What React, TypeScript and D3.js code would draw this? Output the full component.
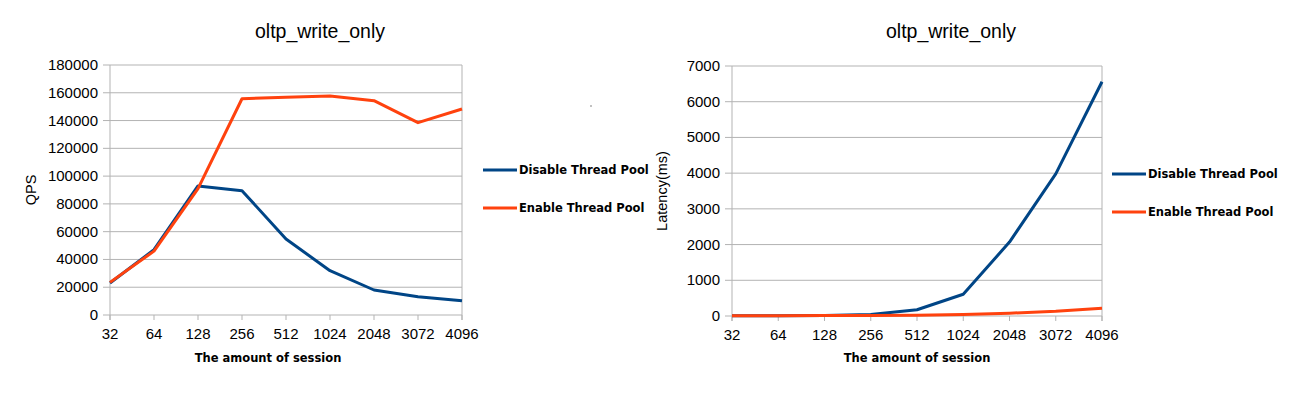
import React from 'react';
import * as d3 from 'd3';

const sessions = ['32', '64', '128', '256', '512', '1024', '2048', '3072', '4096'];
const seriesNames = ['Disable Thread Pool', 'Enable Thread Pool'];
const seriesColors = ['#004586', '#ff420e'];

const qpsDisable = [23000, 47000, 92900, 89500, 54700, 31900, 18000, 13200, 10300];
const qpsEnable = [23500, 46000, 91000, 155700, 156700, 157600, 154300, 138500, 148300];
const qpsTicks = [0, 20000, 40000, 60000, 80000, 100000, 120000, 140000, 160000, 180000];

const latDisable = [5, 8, 15, 45, 175, 610, 2070, 3980, 6560];
const latEnable = [8, 10, 12, 16, 24, 40, 80, 130, 215];
const latTicks = [0, 1000, 2000, 3000, 4000, 5000, 6000, 7000];

const font = '"Liberation Sans", Arial, sans-serif';
const boldFont = '"DejaVu Sans", sans-serif';

const Panel = (props) => {
  const {box, yMax, ticks, series, yTitle, yTitleX, titleX, xTitleX, legend} = props;
  const [top, left, bottom, right] = box;
  const x = d3.scalePoint().domain(sessions).range([left, right]);
  const y = d3.scaleLinear().domain([0, yMax]).range([bottom, top]);
  const line = d3.line().x((d, i) => x(sessions[i])).y(d => y(d));
  return (
    <g>
      <text x={titleX} y={38} textAnchor="middle" fontFamily={font} fontSize={19.5} fill="#000">oltp_write_only</text>
      {ticks.map(t => (
        <g key={t}>
          <line x1={left - 7} x2={right} y1={y(t)} y2={y(t)} stroke="#b3b3b3" strokeWidth={1} />
          <text x={left - 12} y={y(t) + 5} textAnchor="end" fontFamily={font} fontSize={15} fill="#000">{t}</text>
        </g>
      ))}
      {sessions.map(s => (
        <g key={s}>
          <line x1={x(s)} x2={x(s)} y1={top} y2={bottom + 5} stroke="#b3b3b3" strokeWidth={1}
            strokeOpacity={s === sessions[0] || s === sessions[sessions.length - 1] ? 1 : 0} />
          <line x1={x(s)} x2={x(s)} y1={bottom} y2={bottom + 5} stroke="#b3b3b3" strokeWidth={1} />
          <text x={x(s)} y={bottom + 24} textAnchor="middle" fontFamily={font} fontSize={15} fill="#000">{s}</text>
        </g>
      ))}
      <text transform={`translate(${yTitleX},${(top + bottom) / 2}) rotate(-90)`} textAnchor="middle"
        fontFamily={font} fontSize={14.5} fill="#000">{yTitle}</text>
      <text x={xTitleX} y={362} textAnchor="middle" fontFamily={boldFont} fontWeight="bold" fontSize={11.5} fill="#000">The amount of session</text>
      {series.map((vals, i) => (
        <path key={i} d={line(vals)} fill="none" stroke={seriesColors[i]} strokeWidth={3} strokeLinejoin="round" />
      ))}
      {seriesNames.map((n, i) => (
        <g key={n}>
          <line x1={legend[0]} x2={legend[0] + 34} y1={legend[1] + i * 38} y2={legend[1] + i * 38} stroke={seriesColors[i]} strokeWidth={3} />
          <text x={legend[0] + 36} y={legend[1] + i * 38 + 4} fontFamily={boldFont} fontWeight="bold" fontSize={11.5} fill="#000">{n}</text>
        </g>
      ))}
    </g>
  );
};

export default function App() {
  return (
    <svg width={1304} height={393} style={{position: 'absolute', left: 0, top: 0, background: '#fff'}}>
      <rect width={1304} height={393} fill="#fff" />
      <Panel box={[65, 110, 315, 462]} yMax={180000} ticks={qpsTicks} series={[qpsDisable, qpsEnable]}
        yTitle="QPS" yTitleX={36} titleX={320} xTitleX={268} legend={[483, 170]} />
      <Panel box={[66, 732, 316, 1102]} yMax={7000} ticks={latTicks} series={[latDisable, latEnable]}
        yTitle="Latency(ms)" yTitleX={667} titleX={951} xTitleX={917} legend={[1112, 174]} />
      <circle cx={591} cy={106} r={0.7} fill="#555" />
    </svg>
  );
}
